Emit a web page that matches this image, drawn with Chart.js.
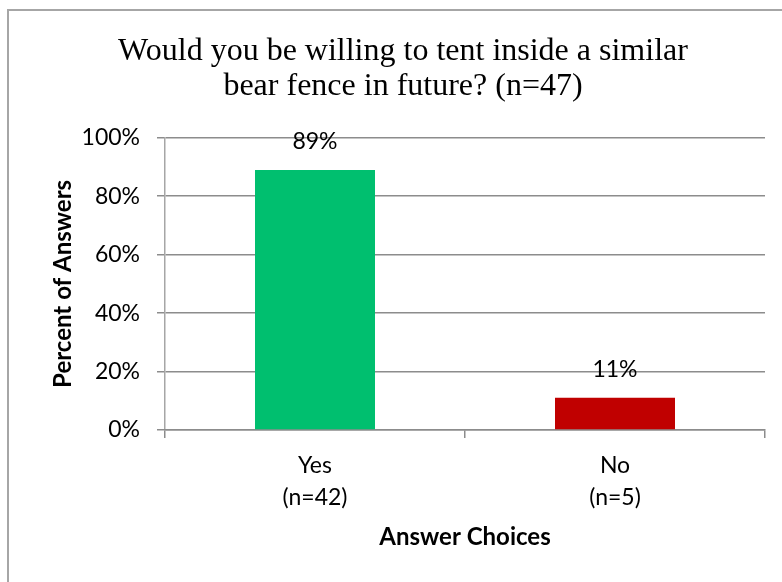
<!DOCTYPE html>
<html>
<head>
<meta charset="utf-8">
<script src="https://cdn.jsdelivr.net/npm/chart.js@4/dist/chart.umd.min.js"></script>
<style>
  html, body { margin: 0; padding: 0; background: #fff; overflow: hidden; }
  #wrap { position: relative; width: 782px; height: 582px; }
  #frame {
    position: absolute; left: 7px; top: 9px; width: 820px; height: 620px;
    border: 2px solid #a6a6a6; box-sizing: border-box;
  }
  canvas { position: absolute; left: 0; top: 0; }
</style>
</head>
<body>
<div id="wrap">
  <div id="frame"></div>
  <canvas id="chart" width="782" height="582"></canvas>
</div>
<script>
const categories = [["Yes", "(n=42)"], ["No", "(n=5)"]];
const percentValues = [89, 11];
const barColors = ["#00bf6f", "#c00000"];
const yTicks = [0, 20, 40, 60, 80, 100];

const sansFont = "Lato, 'Open Sans', sans-serif";

// Percent labels above each bar
const barLabels = {
  id: "barLabels",
  afterDatasetsDraw(chart) {
    const ctx = chart.ctx;
    const meta = chart.getDatasetMeta(0);
    ctx.save();
    ctx.font = "23px " + sansFont;
    ctx.fillStyle = "#000";
    ctx.textAlign = "center";
    ctx.textBaseline = "middle";
    meta.data.forEach((bar, i) => {
      ctx.fillText(percentValues[i] + "%", bar.x, bar.y - 28);
    });
    ctx.restore();
  },
};

new Chart(document.getElementById("chart"), {
  type: "bar",
  data: {
    labels: categories,
    datasets: [{
      data: percentValues,
      backgroundColor: barColors,
      borderWidth: 0,
      barPercentage: 0.4,
      categoryPercentage: 1,
    }],
  },
  options: {
    responsive: false,
    animation: false,
    layout: { padding: { left: 41, right: 17, top: 0, bottom: 30 } },
    plugins: {
      legend: { display: false },
      tooltip: { enabled: false },
      title: {
        display: true,
        text: ["Would you be willing to tent inside a similar", "bear fence in future? (n=47)"],
        color: "#000",
        font: { family: "'Liberation Serif', 'Times New Roman', serif", size: 32, weight: "normal", lineHeight: 1.09 },
        padding: { top: 34, bottom: 34 },
      },
    },
    scales: {
      y: {
        min: 0,
        max: 100,
        afterBuildTicks(scale) {
          scale.ticks = yTicks.map((v) => ({ value: v }));
        },
        afterFit(scale) { scale.width = 124; },
        ticks: {
          color: "#000",
          font: { family: sansFont, size: 23 },
          padding: 17,
          callback: (v) => v + "%",
        },
        grid: { color: "#8c8c8c", lineWidth: 1.5, tickLength: 8 },
        border: { color: "#a6a6a6", width: 1.5 },
        title: {
          display: true,
          text: "Percent of Answers",
          color: "#000",
          font: { family: sansFont, size: 24, weight: "bold" },
          padding: { top: 8, bottom: 0 },
        },
      },
      x: {
        afterFit(scale) { scale.height = 122; },
        ticks: {
          color: "#000",
          font: { family: sansFont, size: 23, lineHeight: 1.4 },
          padding: 11,
        },
        grid: { drawOnChartArea: false, color: "#8c8c8c", lineWidth: 1.5, tickLength: 8, offset: true },
        border: { color: "#8c8c8c", width: 1.5 },
        title: {
          display: true,
          text: "Answer Choices",
          color: "#000",
          font: { family: sansFont, size: 24, weight: "bold" },
          padding: { top: 10, bottom: 0 },
        },
      },
    },
  },
  plugins: [barLabels],
});
</script>
</body>
</html>
